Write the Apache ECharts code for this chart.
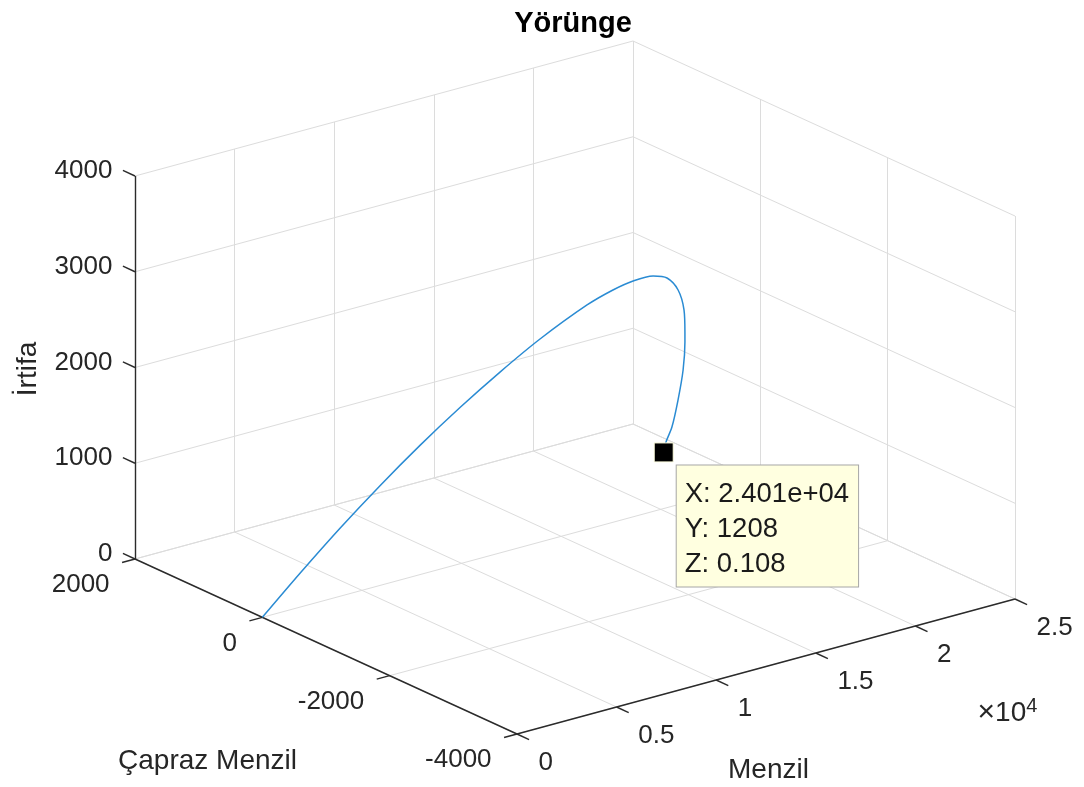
<!DOCTYPE html>
<html>
<head>
<meta charset="utf-8">
<title>Yörünge</title>
<script src="https://cdn.jsdelivr.net/npm/echarts@6/dist/echarts.min.js"></script>
<style>
  html, body { margin: 0; padding: 0; background: #fff; }
  #chart { width: 1084px; height: 787px; }
</style>
</head>
<body>
<div id="chart"></div>
<script>
// eksen araliklari ve tick degerleri
const xRange = [0, 25000];
const yRange = [-4000, 2000];
const zRange = [0, 4000];
const xTicks = [0, 5000, 10000, 15000, 20000, 25000];
const xTickLabels = ['0', '0.5', '1', '1.5', '2', '2.5'];
const yTicks = [-4000, -2000, 0, 2000];
const yTickLabels = ['-4000', '-2000', '0', '2000'];
const zTicks = [0, 1000, 2000, 3000, 4000];
const zTickLabels = ['0', '1000', '2000', '3000', '4000'];

// yorunge verisi
const menzil = [0, 1898, 3931, 5981, 8049, 10137, 12244, 14371, 16940, 18400, 19570, 20800, 21690, 22470, 22990, 23260, 23420, 23520, 23680, 23790, 23940, 24010];
const caprazMenzil = [0, 2, 10, 23, 42, 67, 98, 135, 200, 250, 300, 370, 430, 500, 570, 640, 690, 750, 880, 1010, 1150, 1208];
const irtifa = [0, 353, 706, 1031, 1329, 1599, 1841, 2055, 2246, 2305, 2318, 2279, 2190, 1999, 1740, 1463, 1344, 1028, 666, 338, 131, 0.108];

// 3B -> 2B izdusum (az=-37.5, el=30 gorunumu, olculen kutu kenarlari)
const view = {
  origin: [517, 734],   // (x min, y min, z min) kosesi
  ex: [498, -135],
  ey: [-382, -175],
  ez: [0, -383]
};

function proj(x, y, z) {
  const u = (x - xRange[0]) / (xRange[1] - xRange[0]);
  const v = (y - yRange[0]) / (yRange[1] - yRange[0]);
  const w = (z - zRange[0]) / (zRange[1] - zRange[0]);
  return [
    view.origin[0] + u * view.ex[0] + v * view.ey[0] + w * view.ez[0],
    view.origin[1] + u * view.ex[1] + v * view.ey[1] + w * view.ez[1]
  ];
}

function seg(a, b) {
  return { coords: [a, b] };
}

const [x0, x1] = xRange, [y0, y1] = yRange, [z0, z1] = zRange;

// izgara cizgileri: taban, arka-sol duvar (y=max), arka-sag duvar (x=max)
let gridSegs = [];
xTicks.forEach(x => {
  gridSegs.push(seg(proj(x, y0, z0), proj(x, y1, z0)));
  gridSegs.push(seg(proj(x, y1, z0), proj(x, y1, z1)));
});
yTicks.forEach(y => {
  gridSegs.push(seg(proj(x0, y, z0), proj(x1, y, z0)));
  gridSegs.push(seg(proj(x1, y, z0), proj(x1, y, z1)));
});
zTicks.forEach(z => {
  gridSegs.push(seg(proj(x0, y1, z), proj(x1, y1, z)));
  gridSegs.push(seg(proj(x1, y0, z), proj(x1, y1, z)));
});

// eksen cizgileri ve tick'ler
const tickY = 190, tickX = 650;
let axisSegs = [
  seg(proj(x0, y1, z0), proj(x0, y1, z1)),
  seg(proj(x0, y1, z0), proj(x0, y0, z0)),
  seg(proj(x0, y0, z0), proj(x1, y0, z0))
];
zTicks.forEach(z => axisSegs.push(seg(proj(x0, y1, z), proj(x0, y1 + tickY, z))));
yTicks.forEach(y => axisSegs.push(seg(proj(x0, y, z0), proj(x0 - tickX, y, z0))));
xTicks.forEach(x => axisSegs.push(seg(proj(x, y0, z0), proj(x, y0 - tickY, z0))));

function shift(p, dx, dy) {
  return [p[0] + dx, p[1] + dy];
}

const zLabelItems = zTicks.map((z, i) => ({ value: shift(proj(x0, y1 + tickY, z), -10, 1), text: zTickLabels[i] }));
const yLabelItems = yTicks.map((y, i) => ({ value: shift(proj(x0 - tickX, y, z0), -12, 23), text: yTickLabels[i] }));
const xLabelItems = xTicks.map((x, i) => ({ value: shift(proj(x, y0 - tickY, z0), 10, 24), text: xTickLabels[i] }));

const textColor = '#262626';
const fontFamily = '"Liberation Sans", Arial, Helvetica, sans-serif';

function textSeries(items, align, extra) {
  return {
    type: 'scatter',
    silent: true,
    symbolSize: 1,
    itemStyle: { color: 'rgba(0,0,0,0)', opacity: 1 },
    data: items,
    z: 5,
    label: Object.assign({
      show: true,
      position: [0, 0],
      align: align,
      verticalAlign: 'middle',
      color: textColor,
      opacity: 1,
      fontFamily: fontFamily,
      fontSize: 26,
      formatter: p => p.data.text
    }, extra || {})
  };
}

function matlabExp(v) {
  const parts = v.toExponential(3).split('e');
  const n = parseInt(parts[1], 10);
  return parts[0] + 'e' + (n < 0 ? '-' : '+') + String(Math.abs(n)).padStart(2, '0');
}

const last = menzil.length - 1;
const tipText = 'X: ' + matlabExp(menzil[last]) + '\nY: ' + caprazMenzil[last] + '\nZ: ' + irtifa[last];

const chart = echarts.init(document.getElementById('chart'));

const option = {
  animation: false,
  backgroundColor: '#ffffff',
  title: {
    text: 'Yörünge',
    left: 568,
    top: 4,
    textAlign: 'center',
    textStyle: { fontFamily: fontFamily, fontWeight: 'bold', fontSize: 29, color: '#000' }
  },
  grid: { left: 0, right: 0, top: 0, bottom: 0 },
  xAxis: { type: 'value', min: 0, max: 1084, show: false },
  yAxis: { type: 'value', min: 0, max: 787, inverse: true, show: false },
  series: [
    {
      type: 'lines',
      coordinateSystem: 'cartesian2d',
      silent: true,
      data: gridSegs,
      lineStyle: { color: '#dcdcdc', width: 1, opacity: 1 },
      z: 1
    },
    {
      type: 'lines',
      coordinateSystem: 'cartesian2d',
      silent: true,
      data: axisSegs,
      lineStyle: { color: '#2b2b2b', width: 1.4, opacity: 1 },
      z: 2
    },
    {
      type: 'line',
      name: 'yorunge',
      data: menzil.map((x, i) => proj(x, caprazMenzil[i], irtifa[i])),
      smooth: 0.3,
      symbol: 'none',
      lineStyle: { color: '#2a8bd3', width: 1.5 },
      z: 3
    },
    textSeries(zLabelItems, 'right'),
    textSeries(yLabelItems, 'right'),
    textSeries(xLabelItems, 'left'),
    textSeries([
      { value: shift(proj(x1, y0 - tickY, z0), -49, 109), text: '{m|×}{b|10}{s|4}' }
    ], 'left', {
      fontSize: 28,
      rich: {
        m: { fontSize: 30, color: textColor, fontFamily: fontFamily },
        b: { fontSize: 28, color: textColor, fontFamily: fontFamily },
        s: { fontSize: 20, color: textColor, fontFamily: fontFamily, verticalAlign: 'top', padding: [0, 0, 14, 0] }
      }
    }),
    textSeries([
      { value: shift(proj((x0 + x1) / 2, y0, z0), 3, 104), text: 'Menzil' },
      { value: shift(proj(x0, (y0 + y1) / 2, z0), -118, 115), text: 'Çapraz Menzil' }
    ], 'center', { fontSize: 28 }),
    textSeries([
      { value: shift(proj(x0, y1, (z0 + z1) / 2), -106, 2), text: 'İrtifa' }
    ], 'center', { fontSize: 28, rotate: 90 }),
    {
      type: 'scatter',
      silent: true,
      data: [{ value: proj(menzil[last], caprazMenzil[last], irtifa[last]) }],
      symbol: 'rect',
      symbolSize: 19,
      itemStyle: { color: '#000000', borderColor: '#ffffe0', borderWidth: 1, opacity: 1 },
      z: 6,
      label: {
        show: true,
        position: [23, 23],
        align: 'left',
        verticalAlign: 'top',
        formatter: () => tipText,
        fontFamily: fontFamily,
        fontSize: 27.5,
        lineHeight: 35,
        color: '#1a1a1a',
        opacity: 1,
        backgroundColor: '#ffffe0',
        borderColor: '#a6a6a6',
        borderWidth: 1,
        padding: [11, 9, 5, 8]
      }
    }
  ]
};

chart.setOption(option);
</script>
</body>
</html>
